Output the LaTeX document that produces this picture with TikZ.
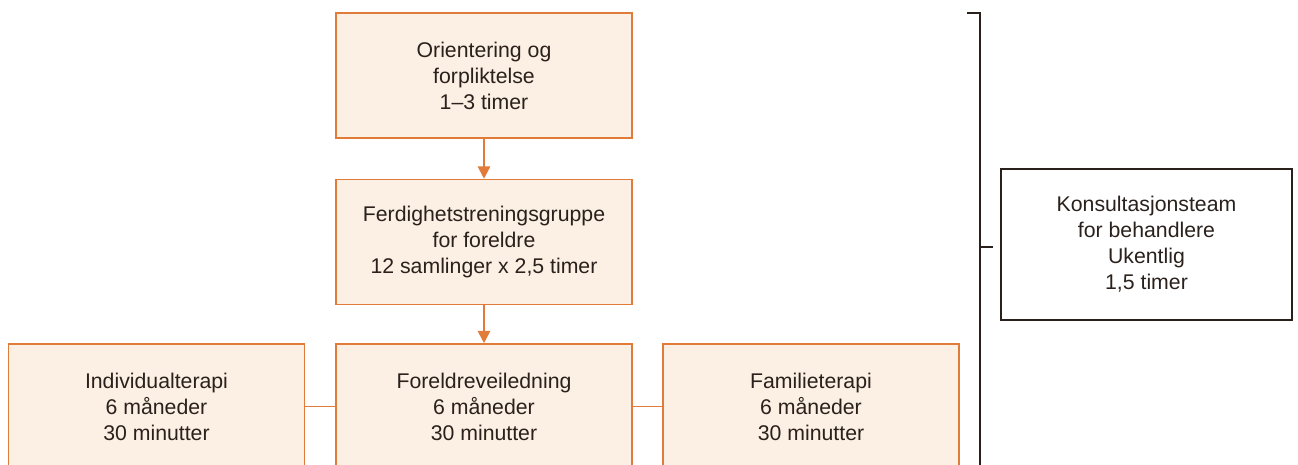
\documentclass[tikz,border=0pt]{standalone}
\usepackage{fontspec}
\setmainfont{Liberation Sans}
\usepackage{tikz}
\usetikzlibrary{arrows.meta,positioning}
\definecolor{boxfill}{RGB}{252,239,227}
\definecolor{boxline}{RGB}{224,123,57}
\definecolor{textdark}{RGB}{42,33,28}

\tikzset{
  stagebox/.style={draw=boxline, fill=boxfill, line width=0.9pt, align=center,
    minimum width=5.92cm, minimum height=2.5cm, text=textdark, font=\fontsize{12.1}{14.8}\selectfont},
  teambox/.style={draw=textdark, line width=0.7pt, align=center,
    minimum width=5.82cm, minimum height=3.02cm, text=textdark, font=\fontsize{12.1}{14.8}\selectfont},
  flow/.style={draw=boxline, line width=1.1pt, -{Triangle[length=7pt,width=7pt]}},
  link/.style={draw=boxline, line width=1.1pt},
  brace/.style={draw=textdark, line width=1pt}
}

\begin{document}
\begin{tikzpicture}[x=0.02cm,y=-0.02cm]
\useasboundingbox (0,0) rectangle (1298,465);
\clip (0,0) rectangle (1298,465);

% Forløp
\node[stagebox] (orient) at (484,75.5) {Orientering og\\forpliktelse\\1--3 timer};
\node[stagebox] (gruppe) at (484,242) {Ferdighetstreningsgruppe\\for foreldre\\12 samlinger x 2,5 timer};

% Nederste rad
\node[stagebox] (indiv) at (156.5,406.5) {Individualterapi\\6 måneder\\30 minutter};
\node[stagebox] (veil) at (484,406.5) {Foreldreveiledning\\6 måneder\\30 minutter};
\node[stagebox] (famil) at (811,406.5) {Familieterapi\\6 måneder\\30 minutter};

% Piler og linjer
\draw[flow] (orient) -- (gruppe);
\draw[flow] (gruppe) -- (veil);
\draw[link] (indiv) -- (veil);
\draw[link] (veil) -- (famil);

% Klamme
\coordinate (btop) at (967,13);
\coordinate (bcorner) at (980,13);
\coordinate (bbottom) at (980,470);
\coordinate (bmid) at (980,247);
\coordinate (btick) at (993,247);
\draw[brace] (btop) -- (bcorner) -- (bbottom);
\draw[brace] (bmid) -- (btick);

% Konsultasjonsteam
\node[teambox] (team) at (1146.5,244.5) {Konsultasjonsteam\\for behandlere\\Ukentlig\\1,5 timer};

\end{tikzpicture}
\end{document}
